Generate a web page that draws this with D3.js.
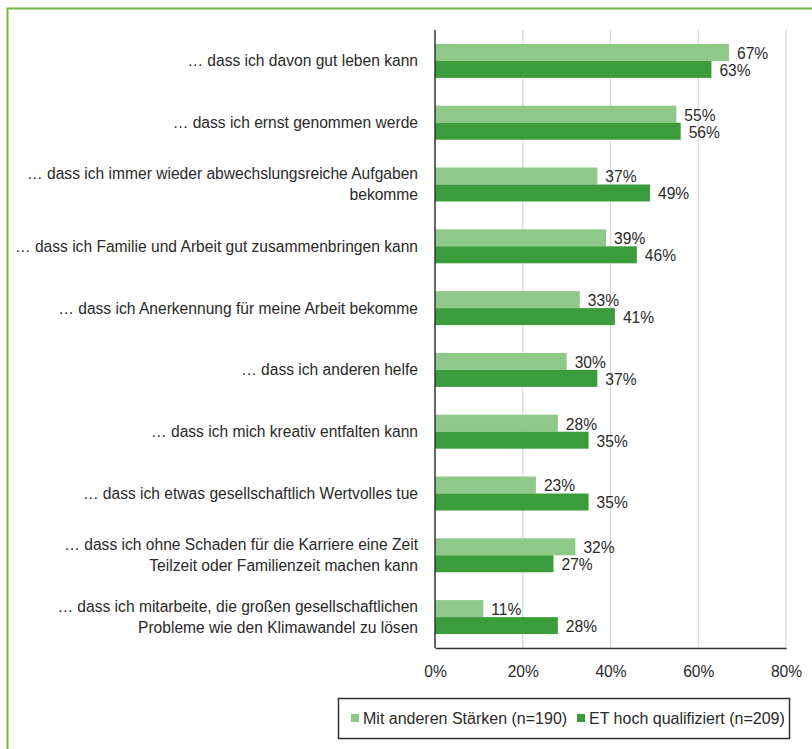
<!DOCTYPE html>
<html>
<head>
<meta charset="utf-8">
<script src="https://cdn.jsdelivr.net/npm/d3@7"></script>
<style>
  html, body { margin: 0; padding: 0; background: #fff; }
  svg { display: block; font-family: "Liberation Sans", Arial, sans-serif; }
</style>
</head>
<body>
<svg id="chart" width="812" height="749"></svg>
<script>
// Statements (each entry holds the label's lines)
const categories = [
  ["… dass ich davon gut leben kann"],
  ["… dass ich ernst genommen werde"],
  ["… dass ich immer wieder abwechslungsreiche Aufgaben", "bekomme"],
  ["… dass ich Familie und Arbeit gut zusammenbringen kann"],
  ["… dass ich Anerkennung für meine Arbeit bekomme"],
  ["… dass ich anderen helfe"],
  ["… dass ich mich kreativ entfalten kann"],
  ["… dass ich etwas gesellschaftlich Wertvolles tue"],
  ["… dass ich ohne Schaden für die Karriere eine Zeit", "Teilzeit oder Familienzeit machen kann"],
  ["… dass ich mitarbeite, die großen gesellschaftlichen", "Probleme wie den Klimawandel zu lösen"]
];
const seriesNames = ["Mit anderen Stärken (n=190)", "ET hoch qualifiziert (n=209)"];
const otherStrengths = [67, 55, 37, 39, 33, 30, 28, 23, 32, 11];
const etQualified   = [63, 56, 49, 46, 41, 37, 35, 35, 27, 28];
const tickValues = [0, 20, 40, 60, 80];
const colors = ["#8ec98a", "#3b9c3b"];

const fontSize = 15.6;
const textColor = "#2a2a2a";

const svg = d3.select("#chart");

// outer green frame (runs past the right and bottom edges)
svg.append("rect")
  .attr("x", 7.5).attr("y", 8.5)
  .attr("width", 840).attr("height", 780)
  .attr("fill", "none")
  .attr("stroke", "#77b845")
  .attr("stroke-width", 2);

const plot = { left: 435, right: 786, top: 30, bottom: 648 };

const x = d3.scaleLinear().domain([0, 80]).range([plot.left, plot.right]);
const y = d3.scaleBand()
  .domain(d3.range(categories.length))
  .range([plot.top, plot.bottom])
  .paddingInner(0.45)
  .paddingOuter(0.225);
const ySub = d3.scaleBand().domain([0, 1]).range([0, y.bandwidth()]);

// vertical gridlines
svg.append("g")
  .selectAll("line")
  .data(tickValues.filter(d => d > 0))
  .join("line")
  .attr("x1", d => x(d)).attr("x2", d => x(d))
  .attr("y1", plot.top).attr("y2", plot.bottom)
  .attr("stroke", "#d9d9d9")
  .attr("stroke-width", 1.2);

// bars
const series = [otherStrengths, etQualified];
const groups = svg.append("g")
  .selectAll("g")
  .data(categories)
  .join("g")
  .attr("transform", (d, i) => `translate(0,${y(i)})`);

series.forEach((vals, s) => {
  groups.append("rect")
    .attr("x", x(0))
    .attr("y", ySub(s))
    .attr("width", (d, i) => x(vals[i]) - x(0))
    .attr("height", ySub.bandwidth())
    .attr("fill", colors[s]);

  groups.append("text")
    .attr("x", (d, i) => x(vals[i]) + 8)
    .attr("y", ySub(s) + ySub.bandwidth() / 2 + 1)
    .attr("dy", "0.35em")
    .attr("font-size", fontSize)
    .attr("fill", textColor)
    .text((d, i) => vals[i] + "%");
});

// category labels
const lineH = 21;
svg.append("g")
  .selectAll("text")
  .data(categories)
  .join("text")
  .attr("text-anchor", "end")
  .attr("font-size", fontSize)
  .attr("fill", textColor)
  .each(function(lines, i) {
    const cy = y(i) + y.bandwidth() / 2;
    const t = d3.select(this);
    lines.forEach((ln, k) => {
      t.append("tspan")
        .attr("x", 418)
        .attr("y", cy + (k - (lines.length - 1) / 2) * lineH)
        .attr("dy", "0.35em")
        .text(ln);
    });
  });

// axes: left line and bottom axis
svg.append("line")
  .attr("x1", plot.left).attr("x2", plot.left)
  .attr("y1", plot.top).attr("y2", plot.bottom)
  .attr("stroke", "#333").attr("stroke-width", 1.5);

const xAxis = svg.append("g")
  .attr("transform", `translate(0,${plot.bottom})`)
  .call(d3.axisBottom(x).tickValues(tickValues).tickSize(0).tickPadding(18).tickFormat(d => d + "%"));
xAxis.select(".domain").attr("stroke", "#333").attr("stroke-width", 1.5);
xAxis.selectAll("text")
  .attr("font-family", "\"Liberation Sans\", Arial, sans-serif")
  .attr("font-size", fontSize)
  .attr("fill", textColor);

// legend
const legend = svg.append("g");
legend.append("rect")
  .attr("x", 338.5).attr("y", 698.5)
  .attr("width", 451).attr("height", 40)
  .attr("fill", "#fff")
  .attr("stroke", "#333")
  .attr("stroke-width", 1.5);
const legendX = [351, 577];
seriesNames.forEach((name, s) => {
  legend.append("rect")
    .attr("x", legendX[s]).attr("y", 714)
    .attr("width", 8).attr("height", 8)
    .attr("fill", colors[s]);
  legend.append("text")
    .attr("x", legendX[s] + 12)
    .attr("y", 718.5)
    .attr("dy", "0.35em")
    .attr("font-size", 16)
    .attr("fill", textColor)
    .text(name);
});
</script>
</body>
</html>
